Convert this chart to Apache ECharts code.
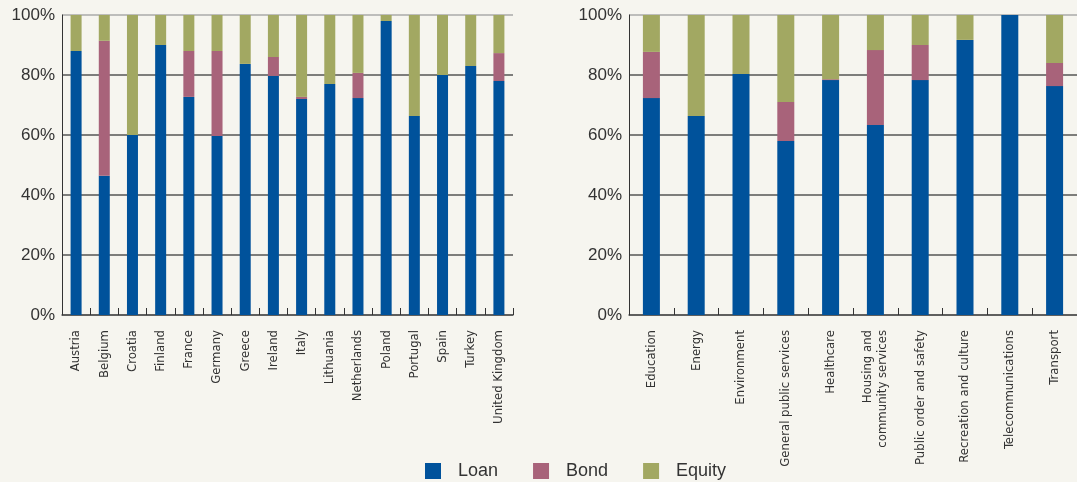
<!DOCTYPE html>
<html>
<head>
<meta charset="utf-8">
<script src="https://cdn.jsdelivr.net/npm/echarts@6/dist/echarts.min.js"></script>
<style>
html, body { margin: 0; padding: 0; background: #f6f5ef; }
#main { width: 1077px; height: 482px; }
</style>
</head>
<body>
<div id="main"></div>
<script>
// left panel: by country
var countries = ['Austria', 'Belgium', 'Croatia', 'Finland', 'France', 'Germany', 'Greece', 'Ireland',
	'Italy', 'Lithuania', 'Netherlands', 'Poland', 'Portugal', 'Spain', 'Turkey', 'United Kingdom'];
var countryLoan   = [88, 46.4, 60, 90, 72.7, 59.7, 83.7, 79.7, 72, 77, 72.3, 98, 66.3, 80, 83, 78];
var countryBond   = [0, 45, 0, 0, 15.3, 28.3, 0, 6.3, 0.7, 0, 8.4, 0, 0, 0, 0, 9.3];
var countryEquity = [12, 8.6, 40, 10, 12, 12, 16.3, 14, 27.3, 23, 19.3, 2, 33.7, 20, 17, 12.7];

// right panel: by sector
var sectors = ['Education', 'Energy', 'Environment', 'General public services', 'Healthcare',
	'Housing and\ncommunity services', 'Public order and safety', 'Recreation and culture',
	'Telecommunications', 'Transport'];
var sectorLoan   = [72.3, 66.3, 80.3, 58, 78.3, 63.3, 78.3, 91.7, 100, 76.3];
var sectorBond   = [15.4, 0, 0, 13, 0.3, 25, 11.7, 0, 0, 7.7];
var sectorEquity = [12.3, 33.7, 19.7, 29, 21.4, 11.7, 10, 8.3, 0, 16];

var yTicks = [0, 20, 40, 60, 80, 100];

var colors = { Loan: '#00529b', Bond: '#a8637a', Equity: '#a2a862' };
var textFont = '"Liberation Sans Narrow", "DejaVu Sans Condensed", "Roboto", sans-serif';

var myChart = echarts.init(document.getElementById('main'));

function xAxisFor(idx, data) {
	return {
		type: 'category',
		gridIndex: idx,
		data: data,
		axisLine: { show: true, lineStyle: { color: '#555', width: 1.5 } },
		axisTick: { show: true, inside: true, length: 7, lineStyle: { color: '#333', width: 1 } },
		axisLabel: {
			rotate: 90,
			margin: 15,
			interval: 0,
			color: '#333',
			fontSize: 13,
			fontFamily: textFont,
			lineHeight: 15
		}
	};
}

function yAxisFor(idx) {
	return {
		type: 'value',
		gridIndex: idx,
		min: yTicks[0],
		max: yTicks[yTicks.length - 1],
		interval: 20,
		axisLine: { show: true, lineStyle: { color: '#333', width: 1 } },
		axisTick: { show: false },
		splitLine: {
			lineStyle: {
				color: ['#555', '#555', '#555', '#555', '#555', '#aaa'],
				width: 1.5
			}
		},
		axisLabel: {
			formatter: '{value}%',
			color: '#333',
			fontSize: 17,
			margin: 7,
			fontFamily: 'Liberation Sans, sans-serif'
		}
	};
}

function barSeries(name, idx, data, w) {
	return {
		name: name,
		type: 'bar',
		stack: 'total' + idx,
		xAxisIndex: idx,
		yAxisIndex: idx,
		barWidth: w,
		itemStyle: { color: colors[name] },
		data: data
	};
}

var option = {
	backgroundColor: '#f6f5ef',
	animation: false,
	legend: {
		data: ['Loan', 'Bond', 'Equity'],
		left: 420,
		top: 457,
		icon: 'rect',
		itemWidth: 16,
		itemHeight: 16,
		itemGap: 35,
		textStyle: {
			color: '#333',
			fontSize: 18,
			fontFamily: 'Liberation Sans, sans-serif',
			padding: [0, 0, 0, 12]
		}
	},
	grid: [
		{ left: 62, top: 15, width: 451, height: 300, outerBoundsMode: 'none' },
		{ left: 629, top: 15, width: 448, height: 300, outerBoundsMode: 'none' }
	],
	xAxis: [xAxisFor(0, countries), xAxisFor(1, sectors)],
	yAxis: [yAxisFor(0), yAxisFor(1)],
	series: [
		barSeries('Loan', 0, countryLoan, 11),
		barSeries('Bond', 0, countryBond, 11),
		barSeries('Equity', 0, countryEquity, 11),
		barSeries('Loan', 1, sectorLoan, 17),
		barSeries('Bond', 1, sectorBond, 17),
		barSeries('Equity', 1, sectorEquity, 17)
	]
};

myChart.setOption(option, true);
window.onresize = function () {
	myChart.resize();
};
</script>
</body>
</html>
